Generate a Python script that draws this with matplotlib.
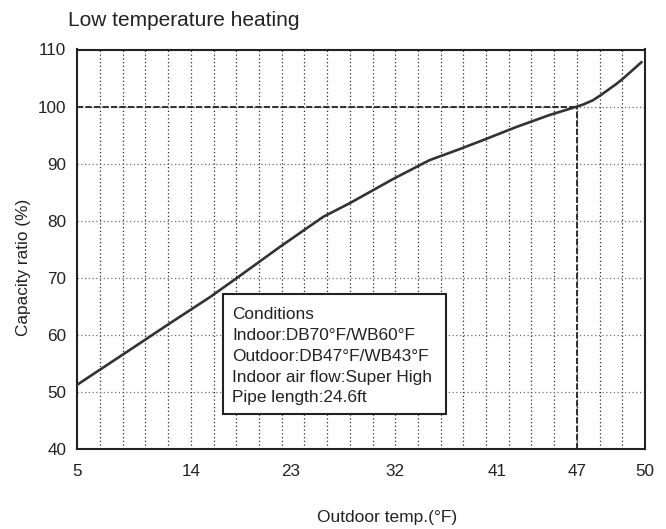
import numpy as np
import matplotlib
matplotlib.use("Agg")
import matplotlib.pyplot as plt
from matplotlib.patches import Rectangle

plt.rcParams['font.family'] = ['Liberation Sans', 'DejaVu Sans']

# ---- data ----
outdoor_temp_f = [5, 8.9, 12.3, 15.7, 18.3, 22.0, 25.8, 28.1, 31.8, 35.0,
                  37.6, 39.7, 42.4, 44.9, 47.0, 47.3, 47.7, 48.05, 48.4, 48.75,
                  49.0, 49.4, 49.85]
capacity_ratio = [51.3, 57.0, 62.0, 66.6, 70.2, 75.4, 80.7, 83.1, 87.3, 90.6,
                  92.5, 94.1, 96.4, 98.5, 100.0, 100.4, 101.1, 102.0, 103.0, 104.0,
                  104.8, 106.2, 107.8]

x_tick_labels = [5, 14, 23, 32, 41, 47, 50]
x_tick_cells = [0, 5, 9.4, 14, 18.5, 22, 25]   # where each label sits on the 25-cell grid
y_ticks = [40, 50, 60, 70, 80, 90, 100, 110]
rated_temp = 47
rated_ratio = 100

title = "Low temperature heating"
xlabel = "Outdoor temp.(°F)"
ylabel = "Capacity ratio (%)"
conditions = ["Conditions",
              "Indoor:DB70°F/WB60°F",
              "Outdoor:DB47°F/WB43°F",
              "Indoor air flow:Super High",
              "Pipe length:24.6ft"]

# ---- scale mapping (the chart's x axis is drawn on a 25-cell grid) ----
tv = np.array(x_tick_labels, float)
tc = np.array(x_tick_cells, float)


def fwd(x):
    x = np.asarray(x, float)
    y = np.interp(x, tv, tc)
    y = np.where(x < tv[0], tc[0] + (x - tv[0]) / 1.8, y)
    y = np.where(x > tv[-1], tc[-1] + (x - tv[-1]) / 1.0, y)
    return y


def inv(c):
    c = np.asarray(c, float)
    x = np.interp(c, tc, tv)
    x = np.where(c < tc[0], tv[0] + (c - tc[0]) * 1.8, x)
    x = np.where(c > tc[-1], tv[-1] + (c - tc[-1]) * 1.0, x)
    return x


W, H = 666, 529
fig = plt.figure(figsize=(W / 100, H / 100), dpi=100)
ax = fig.add_axes([77.3 / W, 1 - 449.2 / H, (645 - 77.3) / W, (449.2 - 49.5) / H])

ax.set_xscale('function', functions=(fwd, inv))
ax.set_xlim(tv[0], tv[-1])
ax.set_ylim(y_ticks[0], y_ticks[-1])

# grid
ax.set_xticks(x_tick_labels)
ax.set_xticklabels([str(v) for v in x_tick_labels])
ax.set_xticks(inv(np.arange(1, 25)), minor=True)
ax.set_yticks(y_ticks)
ax.tick_params(axis='both', which='both', length=0, labelsize=12.3, colors='#222222')
ax.tick_params(axis='x', pad=10.3)
ax.tick_params(axis='y', pad=8.0)
ax.grid(False)
for c in np.arange(1, 25):
    ax.axvline(inv(c), color='#2a2a2a', lw=0.9, ls=(0, (1, 2)), zorder=1)
for yv in y_ticks[1:-1]:
    ax.axhline(yv, color='#707070', lw=0.9, ls=(0, (1, 2)), zorder=1)

# rated reference lines
ax.plot([tv[0], rated_temp], [rated_ratio, rated_ratio], color='#222222', lw=1.3,
        ls=(0, (3.5, 1.2)), zorder=2)
ax.plot([rated_temp, rated_temp], [y_ticks[0], rated_ratio], color='#222222', lw=1.3,
        ls=(0, (3.5, 1.2)), zorder=2)

# curve
ax.plot(outdoor_temp_f, capacity_ratio, color='#333333', lw=1.9, zorder=3,
        solid_joinstyle='round', solid_capstyle='round')

for s in ax.spines.values():
    s.set_linewidth(1.5)
    s.set_color('#222222')

# conditions box
bx0 = (223.3 - 77.3) / 567.7
bx1 = (446 - 77.3) / 567.7
by1 = (449.2 - 294) / 399.7
by0 = (449.2 - 413.7) / 399.7
ax.add_patch(Rectangle((bx0, by0), bx1 - bx0, by1 - by0, transform=ax.transAxes,
                       facecolor='white', edgecolor='#222222', lw=1.5, zorder=4))
baselines_px = [319, 340, 361, 381.7, 402.3]
for line, bp in zip(conditions, baselines_px):
    ax.text((232 - 77.3) / 567.7, (449.2 - bp) / 399.7, line, transform=ax.transAxes,
            fontsize=12.4, color='#222222', va='baseline', ha='left', zorder=5)

# titles / labels
fig.text(68.3 / W, 1 - 25.5 / H, title, fontsize=15, color='#222222',
         ha='left', va='baseline')
fig.text(387.5 / W, 1 - 521.7 / H, xlabel, fontsize=12.5, color='#222222',
         ha='center', va='baseline')
fig.text(23.7 / W, 1 - 267.7 / H, ylabel, fontsize=12.4, color='#222222',
         ha='center', va='center', rotation=90)

fig.savefig('out.png', dpi=100, facecolor='white')
